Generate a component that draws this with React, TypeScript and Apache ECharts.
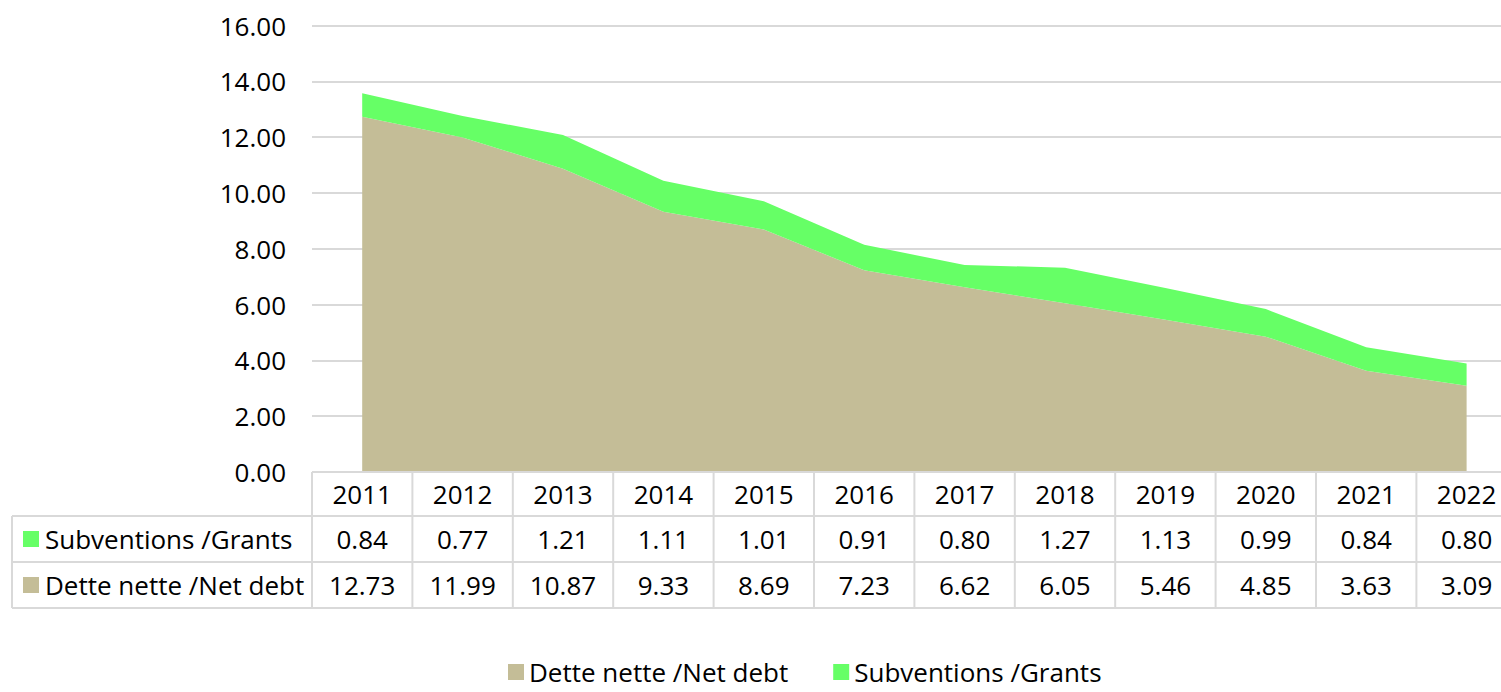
import React, { useEffect, useRef } from "react";
import * as echarts from "echarts";

const years = ["2011","2012","2013","2014","2015","2016","2017","2018","2019","2020","2021","2022"];
const netDebt = [12.73, 11.99, 10.87, 9.33, 8.69, 7.23, 6.62, 6.05, 5.46, 4.85, 3.63, 3.09];
const grants = [0.84, 0.77, 1.21, 1.11, 1.01, 0.91, 0.80, 1.27, 1.13, 0.99, 0.84, 0.80];
const netDebtName = "Dette nette /Net debt";
const grantsName = "Subventions /Grants";

const TAN = "#C4BD97";
const GREEN = "#66FF66";
const LINE = "#D9D9D9";
const FONT = "'Open Sans', Lato, sans-serif";
const FS = 26;

export default function App() {
  const ref = useRef<HTMLDivElement>(null);
  useEffect(() => {
    if (!ref.current) return;
    const chart = echarts.init(ref.current, null, { renderer: "svg" });
    const gridLeft = 312;
    const colW = 100.4;
    const gridW = colW * years.length;
    const gridTop = 25.5;
    const gridH = 446.5;
    const rowY = [472, 516, 562, 608];
    const tableLeft = 12;
    const rightEdge = gridLeft + gridW;
    const graphics: any[] = [];
    const ls = { stroke: LINE, lineWidth: 2 };
    graphics.push({ type: "line", shape: { x1: gridLeft, y1: rowY[0], x2: rightEdge, y2: rowY[0] }, style: ls, z: 10 });
    for (let r = 1; r < rowY.length; r++) {
      graphics.push({ type: "line", shape: { x1: tableLeft, y1: rowY[r], x2: rightEdge, y2: rowY[r] }, style: ls, z: 10 });
    }
    graphics.push({ type: "line", shape: { x1: tableLeft, y1: rowY[1], x2: tableLeft, y2: rowY[3] }, style: ls, z: 10 });
    for (let i = 0; i <= years.length; i++) {
      const x = gridLeft + i * colW;
      graphics.push({ type: "line", shape: { x1: x, y1: rowY[0], x2: x, y2: rowY[3] }, style: ls, z: 10 });
    }
    const rows = [
      { vals: years, y: (rowY[0] + rowY[1]) / 2 },
      { vals: grants.map((v) => v.toFixed(2)), y: (rowY[1] + rowY[2]) / 2 },
      { vals: netDebt.map((v) => v.toFixed(2)), y: (rowY[2] + rowY[3]) / 2 },
    ];
    rows.forEach((row) => {
      row.vals.forEach((t, i) => {
        graphics.push({
          type: "text",
          x: gridLeft + (i + 0.5) * colW,
          y: row.y,
          style: { text: t, fill: "#000", font: `${FS}px ${FONT}`, align: "center", verticalAlign: "middle" },
          z: 11,
        });
      });
    });
    const labels = [
      { name: grantsName, color: GREEN, y: rows[1].y },
      { name: netDebtName, color: TAN, y: rows[2].y },
    ];
    labels.forEach((l) => {
      graphics.push({ type: "rect", shape: { x: 23, y: l.y - 8, width: 16, height: 16 }, style: { fill: l.color }, z: 11 });
      graphics.push({
        type: "text",
        x: 45,
        y: l.y,
        style: { text: l.name, fill: "#000", font: `${FS}px ${FONT}`, align: "left", verticalAlign: "middle" },
        z: 11,
      });
    });

    chart.setOption({
      animation: false,
      backgroundColor: "#fff",
      textStyle: { fontFamily: FONT },
      grid: { left: gridLeft, top: gridTop, width: gridW, height: gridH },
      legend: {
        left: 508,
        top: 658,
        padding: 0,
        icon: "rect",
        itemWidth: 16,
        itemHeight: 16,
        itemGap: 45,
        textStyle: { fontSize: FS, color: "#000", fontFamily: FONT, lineHeight: 28 },
        data: [netDebtName, grantsName],
      },
      xAxis: {
        type: "category",
        data: years,
        boundaryGap: true,
        axisLine: { show: false },
        axisTick: { show: false },
        axisLabel: { show: false },
      },
      yAxis: {
        type: "value",
        min: 0,
        max: 16,
        interval: 2,
        axisLine: { show: false },
        axisTick: { show: false },
        axisLabel: {
          formatter: (v: number) => v.toFixed(2),
          fontSize: FS,
          color: "#000",
          margin: 26,
          fontFamily: FONT,
        },
        splitLine: { lineStyle: { color: LINE, width: 2 } },
      },
      series: [
        {
          name: netDebtName,
          type: "line",
          stack: "total",
          data: netDebt,
          symbol: "none",
          lineStyle: { width: 0 },
          itemStyle: { color: TAN },
          areaStyle: { color: TAN, opacity: 1 },
        },
        {
          name: grantsName,
          type: "line",
          stack: "total",
          data: grants,
          symbol: "none",
          lineStyle: { width: 0 },
          itemStyle: { color: GREEN },
          areaStyle: { color: GREEN, opacity: 1 },
        },
      ],
      graphic: graphics,
    });
    return () => chart.dispose();
  }, []);
  return <div ref={ref} style={{ position: "fixed", left: 0, top: 0, width: 1530, height: 692 }} />;
}
